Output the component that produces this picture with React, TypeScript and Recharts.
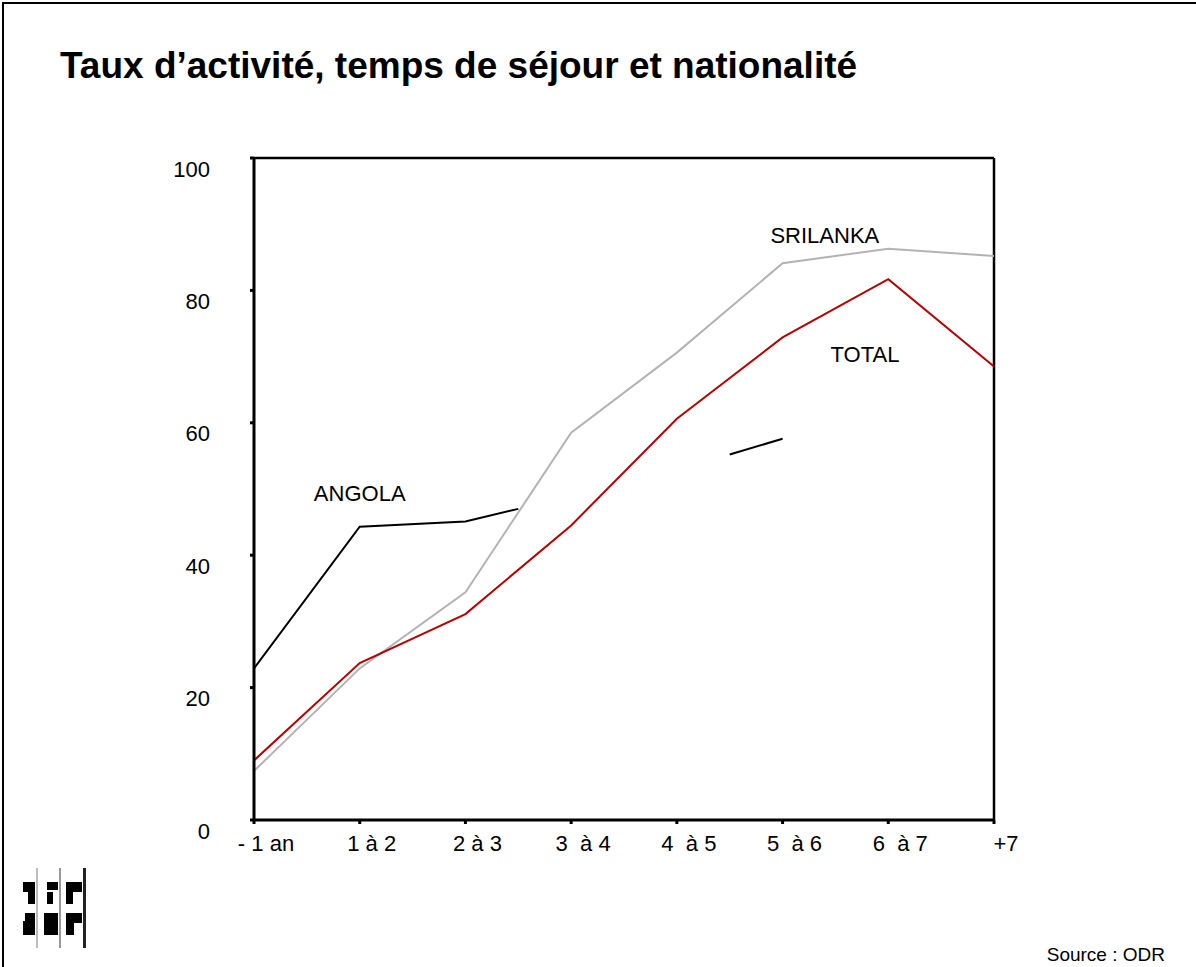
import React from 'react'
import {
  LineChart,
  Line,
  XAxis,
  YAxis,
  ReferenceLine,
  ReferenceDot,
} from 'recharts'

// categories (temps de séjour)
const categories = ['- 1 an', '1 à 2', '2 à 3', '3  à 4', '4  à 5', '5  à 6', '6  à 7', '+7']
const yTicks = [0, 20, 40, 60, 80, 100]

// series values, one per category
const totalValues = [9, 23.7, 31.1, 44.5, 60.6, 72.9, 81.7, 68.5]
const srilankaValues = [7.4, 22.9, 34.4, 58.5, 70.6, 84.1, 86.3, 85.2]

// Angola is only drawn in two pieces in the source chart
const angolaPos = [0, 1, 2, 2.5, 3.5, 4.5, 5]
const angolaValues = [22.9, 44.3, 45.1, 47.0, null, 55.2, 57.6]

const toPoints = (values: (number | null)[], pos?: number[]) =>
  values.map((v, i) => ({ x: pos ? pos[i] : i, v }))

const totalData = toPoints(totalValues)
const srilankaData = toPoints(srilankaValues)
const angolaData = toPoints(angolaValues, angolaPos)

const FONT = '"Liberation Sans", Arial, sans-serif'

function YTick({ x, y, payload }: any) {
  return (
    <text x={x - 38} y={y + 11} textAnchor="end" dominantBaseline="central" fontSize={22} fontFamily={FONT} fill="#000">
      {payload.value}
    </text>
  )
}

function XTick({ x, y, payload }: any) {
  return (
    <text x={x + 12} y={y + 17} textAnchor="middle" dominantBaseline="central" fontSize={22} fontFamily={FONT} fill="#000" style={{ whiteSpace: 'pre' }}>
      {categories[payload.value]}
    </text>
  )
}

function Logo() {
  return (
    <svg width={70} height={90} style={{ position: 'absolute', left: 20, top: 866 }}>
      <rect x={16} y={2} width={2} height={80} fill="#bbb" />
      <rect x={39} y={2} width={2} height={80} fill="#999" />
      <rect x={63} y={2} width={3} height={80} fill="#222" />
      <rect x={3} y={16} width={12} height={10} fill="#000" />
      <rect x={8} y={26} width={7} height={12} fill="#000" />
      <rect x={27} y={16} width={11} height={8} fill="#000" />
      <rect x={27} y={26} width={6} height={12} fill="#000" />
      <rect x={46} y={16} width={16} height={10} fill="#000" />
      <rect x={46} y={26} width={7} height={12} fill="#000" />
      <rect x={5} y={47} width={10} height={8} fill="#000" />
      <rect x={3} y={55} width={12} height={14} fill="#000" />
      <rect x={24} y={47} width={14} height={22} fill="#000" />
      <rect x={46} y={47} width={16} height={10} fill="#000" />
      <rect x={46} y={57} width={8} height={12} fill="#000" />
    </svg>
  )
}

const labelStyle = { position: 'center' as const, fontSize: 22, fill: '#000', fontFamily: FONT }

export default function App() {
  return (
    <div
      style={{
        position: 'absolute',
        left: 0,
        top: 0,
        width: 1196,
        height: 967,
        background: '#fff',
        overflow: 'hidden',
        fontFamily: FONT,
      }}
    >
      <div style={{ position: 'absolute', left: 2, top: 2, width: 1196, height: 967, borderLeft: '2px solid #000', borderTop: '2px solid #000' }} />
      <div style={{ position: 'absolute', left: 60, top: 45, fontSize: 37, fontWeight: 'bold', color: '#000', whiteSpace: 'nowrap' }}>
        Taux d’activité, temps de séjour et nationalité
      </div>
      <div style={{ position: 'absolute', right: 31, top: 944, fontSize: 19, color: '#000' }}>Source : ODR</div>
      <Logo />
      <div style={{ position: 'absolute', left: 0, top: 0 }}>
        <LineChart width={1196} height={967} margin={{ top: 158, right: 202, bottom: 117, left: 194 }}>
          <XAxis
            dataKey="x"
            type="number"
            domain={[0, 7]}
            ticks={[0, 1, 2, 3, 4, 5, 6, 7]}
            height={30}
            axisLine={{ stroke: '#000', strokeWidth: 3 }}
            tickLine={{ stroke: '#000', strokeWidth: 3 }}
            tickSize={4}
            tick={<XTick />}
          />
          <YAxis
            type="number"
            domain={[0, 100]}
            ticks={yTicks}
            width={60}
            axisLine={{ stroke: '#000', strokeWidth: 3 }}
            tickLine={{ stroke: '#000', strokeWidth: 3 }}
            tickSize={4}
            tick={<YTick />}
          />
          <ReferenceLine y={100} stroke="#000" strokeWidth={2.5} />
          <ReferenceLine x={7} stroke="#000" strokeWidth={2.5} />
          <Line data={srilankaData} dataKey="v" stroke="#b3b3b3" strokeWidth={2} dot={false} isAnimationActive={false} />
          <Line data={angolaData} dataKey="v" stroke="#000" strokeWidth={2} dot={false} connectNulls={false} isAnimationActive={false} />
          <Line data={totalData} dataKey="v" stroke="#b50000" strokeWidth={2} dot={false} isAnimationActive={false} />
          <ReferenceDot x={1} y={49.3} r={0} fill="none" stroke="none" label={{ value: 'ANGOLA', ...labelStyle }} />
          <ReferenceDot x={5.4} y={88.4} r={0} fill="none" stroke="none" label={{ value: 'SRILANKA', ...labelStyle }} />
          <ReferenceDot x={5.78} y={70.4} r={0} fill="none" stroke="none" label={{ value: 'TOTAL', ...labelStyle }} />
        </LineChart>
      </div>
    </div>
  )
}
